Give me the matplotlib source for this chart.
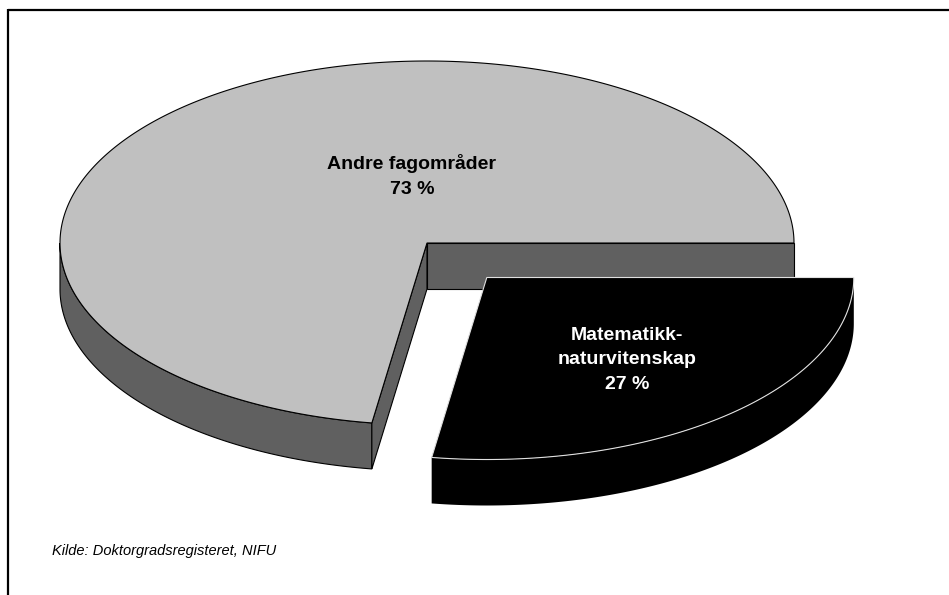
import numpy as np
import matplotlib.pyplot as plt
from matplotlib.patches import Polygon

plt.rcParams['font.family'] = ['Liberation Sans', 'DejaVu Sans']

# Data
labels = ["Andre fagområder", "Matematikk-\nnaturvitenskap"]
values = [72.6, 27.4]
top_colors = ["#c0c0c0", "#000000"]
side_colors = ["#606060", "#000000"]
text_colors = ["black", "white"]
explode = [0.0, 0.25]
source = "Kilde: Doktorgradsregisteret, NIFU"

# Layout of the 3D pie (pixels)
cx, cy = 427, 243
rx, ry = 367, 182
depth = 46


def rim(t, ox, oy, dy=0):
    return np.column_stack([ox + rx * np.cos(t), oy + ry * np.sin(t) + dy])


fig = plt.figure(figsize=(9.49, 5.95), dpi=100)
ax = fig.add_axes([0, 0, 1, 1])
ax.set_xlim(0, 949)
ax.set_ylim(595, 0)
ax.axis("off")

# Slice angles, clockwise from east (screen y points down)
# the small slice starts at east, the big one takes the rest
fracs = np.array(values) / sum(values)
cut = fracs[1] * 2 * np.pi
spans = [(cut, 2 * np.pi), (0.0, cut)]

# Draw the back slice (gray) first, then the exploded one
for i in [0, 1]:
    t0, t1 = spans[i]
    mid = (t0 + t1) / 2
    ox = cx + explode[i] * rx * np.cos(mid)
    oy = cy + explode[i] * ry * np.sin(mid)

    # outer wall, only the front half (sin > 0) shows
    a = max(t0, 0.0)
    b = min(t1, np.pi)
    if b > a:
        t = np.linspace(a, b, 200)
        wall = np.vstack([rim(t, ox, oy), rim(t[::-1], ox, oy, depth)])
        ax.add_patch(Polygon(wall, closed=True, facecolor=side_colors[i],
                             edgecolor="black" if i == 0 else "none", lw=0.8))

    # cut faces of the gray slice
    if i == 0:
        for ang in [t0, t1]:
            p = rim(np.array([ang]), ox, oy)[0]
            face = [(ox, oy), tuple(p), (p[0], p[1] + depth), (ox, oy + depth)]
            ax.add_patch(Polygon(face, closed=True, facecolor=side_colors[i],
                                 edgecolor="black", lw=0.8))

    # top surface
    t = np.linspace(t0, t1, 400)
    top = np.vstack([[ox, oy], rim(t, ox, oy)])
    ax.add_patch(Polygon(top, closed=True, facecolor=top_colors[i],
                         edgecolor="black" if i == 0 else "#e0e0e0", lw=0.8))

# Data labels
ax.text(412, 176, f"{labels[0]}\n{values[0]:.0f} %", ha="center", va="center",
        fontsize=14, fontweight="bold", color=text_colors[0], linespacing=1.65)
ax.text(627, 360, f"{labels[1]}\n{values[1]:.0f} %", ha="center", va="center",
        fontsize=14, fontweight="bold", color=text_colors[1], linespacing=1.55)

# Source note
ax.text(52, 551, source, ha="left", va="center", fontsize=10.5, style="italic")

# Frame (top and left only)
ax.plot([8.5, 949], [10, 10], color="black", lw=1.6, solid_capstyle="butt")
ax.plot([8.5, 8.5], [9.2, 595], color="black", lw=1.6, solid_capstyle="butt")

fig.savefig("out.png", dpi=100)
plt.close(fig)
